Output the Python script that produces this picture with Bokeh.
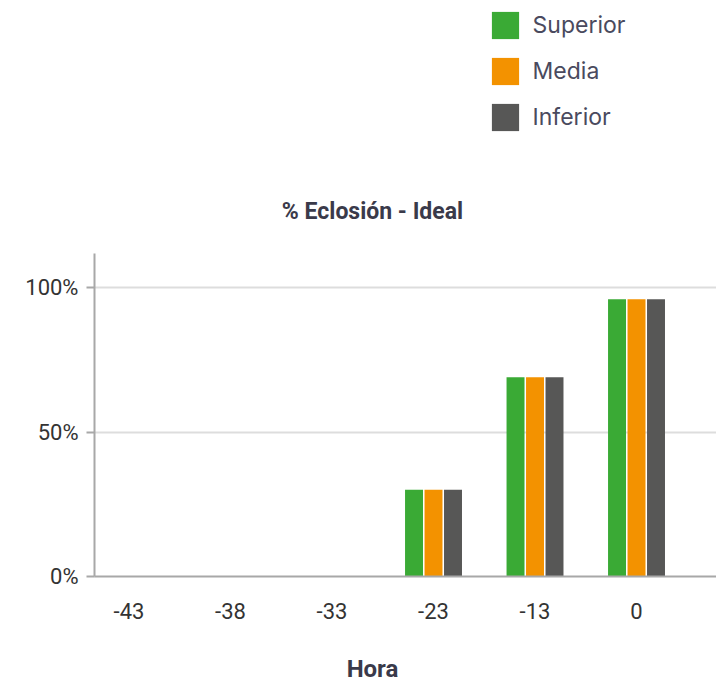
from bokeh.plotting import figure
from bokeh.layouts import column
from bokeh.models import Range1d, FixedTicker, Legend, LegendItem, Label, ColumnDataSource
from bokeh.embed import file_html
from bokeh.resources import INLINE

horas = ["-43", "-38", "-33", "-23", "-13", "0"]
superior = [0, 0, 0, 30, 69, 96]
media = [0, 0, 0, 30, 69, 96]
inferior = [0, 0, 0, 30, 69, 96]
series = ["Superior", "Media", "Inferior"]
colors = ["#3aaa35", "#f39200", "#575756"]
y_ticks = [0, 50, 100]
y_labels = ["0%", "50%", "100%"]

pos = [i + 0.5 for i in range(len(horas))]
font = "Roboto"
W = 716
LEFT = 94


def blank(h):
    f = figure(width=W, height=h, output_backend="svg", toolbar_location=None,
               x_range=Range1d(LEFT, W), y_range=Range1d(h, 0),
               x_axis_type=None, y_axis_type=None,
               min_border_left=LEFT, min_border_right=0,
               min_border_top=0, min_border_bottom=0)
    f.outline_line_color = None
    f.xgrid.visible = False
    f.ygrid.visible = False
    return f


# main chart
p = figure(width=W, height=396, output_backend="svg", toolbar_location=None,
           x_range=Range1d(0.16, 6.288), y_range=Range1d(0, 111.8),
           min_border_left=LEFT, min_border_right=0, min_border_top=13, min_border_bottom=60)
p.outline_line_color = None

offsets = [-0.192, 0.0, 0.192]
for vals, off, col in zip([superior, media, inferior], offsets, colors):
    src = ColumnDataSource(dict(x=[v + off for v in pos], top=vals))
    p.vbar(x="x", top="top", width=0.177, source=src, fill_color=col, line_color=None)

p.xaxis.ticker = FixedTicker(ticks=pos)
p.xaxis.major_label_overrides = {v: h for v, h in zip(pos, horas)}
p.yaxis.ticker = FixedTicker(ticks=y_ticks)
p.yaxis.major_label_overrides = {t: l for t, l in zip(y_ticks, y_labels)}

for ax in (p.xaxis, p.yaxis):
    ax.axis_line_color = "#a8a8a8"
    ax.axis_line_width = 2
    ax.minor_tick_line_color = None
    ax.major_label_text_font = font
    ax.major_label_text_font_size = "22px"
    ax.major_label_text_color = "#333333"
p.xaxis.major_tick_line_color = None
p.xaxis.major_label_standoff = 20
p.yaxis.major_tick_line_color = "#a8a8a8"
p.yaxis.major_tick_line_width = 2
p.yaxis.major_tick_out = 8
p.yaxis.major_tick_in = 0
p.yaxis.major_label_standoff = 8

p.xgrid.grid_line_color = None
p.ygrid.grid_line_color = "#dddddd"
p.ygrid.grid_line_width = 2

# top area: legend + title (legend renderers have zero height, nothing drawn)
top = blank(240)
legend_renderers = []
for col in colors:
    r = top.vbar(x=[400], top=[150], bottom=[150], width=0, fill_color=col, line_color=None)
    legend_renderers.append(r)
legend = Legend(items=[LegendItem(label=s, renderers=[r]) for s, r in zip(series, legend_renderers)],
                location=(393.6, 106.4), orientation="vertical",
                glyph_width=34, glyph_height=34, label_height=34, label_standoff=11, spacing=12,
                padding=0, margin=0, border_line_color=None, background_fill_alpha=0,
                label_text_font="Inter", label_text_font_size="23px", label_text_color="#4a4a5e")
top.add_layout(legend, "center")
top.add_layout(Label(x=372, y=211, text="% Eclosión - Ideal", text_align="center",
                     text_baseline="middle", text_font=font, text_font_style="bold",
                     text_font_size="23px", text_color="#3a3a4a"))

# bottom area: x axis title
bottom = blank(48)
bottom.add_layout(Label(x=372, y=32, text="Hora", text_align="center",
                        text_baseline="middle", text_font=font, text_font_style="bold",
                        text_font_size="24px", text_color="#3a3a4a"))

layout = column(top, p, bottom, spacing=0)
open("out.html", "w").write(file_html(layout, INLINE))
